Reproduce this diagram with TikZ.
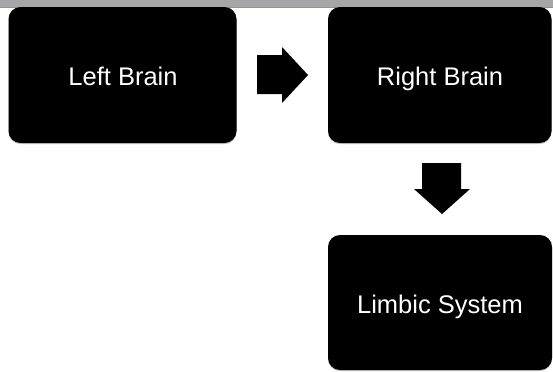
\documentclass[tikz,border=0pt]{standalone}
\usepackage{fontspec}
\setmainfont{Liberation Sans}
\usetikzlibrary{shadows}
\definecolor{topgray}{HTML}{A6A6A6}
\definecolor{topblue}{HTML}{6A9AD8}
\tikzset{
  brainbox/.style={fill=black, rounded corners=12bp, drop shadow={shadow xshift=0bp, shadow yshift=-1.2bp, opacity=0.35, fill=black!60}},
  boxlabel/.style={text=white, font=\fontsize{25.5bp}{30bp}\selectfont, anchor=base, inner sep=0pt},
  blockarrow/.style={fill=black}
}
\begin{document}
\begin{tikzpicture}[x=1bp,y=-1bp]
  \useasboundingbox (0,0) rectangle (553,371);
  \fill[white] (0,0) rectangle (553,371);
  % top band
  \fill[topgray] (0,0) rectangle (553,7);
  \draw[topblue, line width=0.8bp] (0,7.2) -- (553,7.2);
  % boxes
  \fill[brainbox] (8.5,7) rectangle (236.5,143);
  \fill[brainbox] (328,7) rectangle (551.5,143);
  \fill[brainbox] (328,235) rectangle (552,370);
  \node[boxlabel] (left) at (123,85.7) {Left Brain};
  \node[boxlabel] (right) at (440,85.7) {Right Brain};
  \node[boxlabel] (limbic) at (440,313) {Limbic System};
  % right arrow
  \fill[blockarrow] (257,55) -- (282,55) -- (282,47) -- (308,75) -- (282,103) -- (282,94) -- (257,94) -- cycle;
  % down arrow
  \fill[blockarrow] (422,163) -- (461,163) -- (461,189) -- (470,189) -- (442,214) -- (414,189) -- (422,189) -- cycle;
\end{tikzpicture}
\end{document}
